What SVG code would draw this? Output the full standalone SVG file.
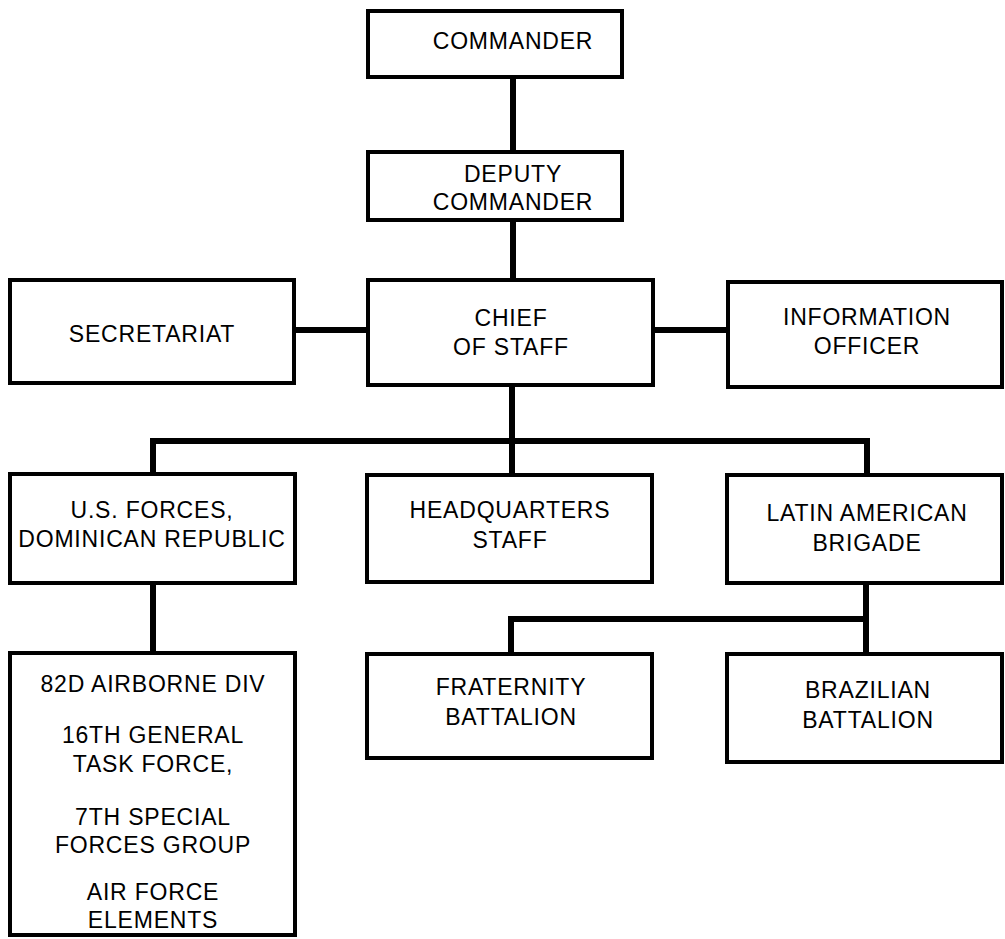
<svg xmlns="http://www.w3.org/2000/svg" width="1005" height="939" viewBox="0 0 1005 939">
<style>
.box{fill:#fff;stroke:#000;stroke-width:4}
.conn{fill:none;stroke:#000;stroke-width:6;stroke-linejoin:miter}
text{font-family:"Liberation Sans",Arial,sans-serif;font-size:23px;letter-spacing:0.8px;text-anchor:middle;fill:#000}
</style>
<rect width="1005" height="939" fill="#fff"/>
<g id="connectors">
<path class="conn" d="M513,77 V152"/>
<path class="conn" d="M513,220 V280"/>
<path class="conn" d="M294,330 H368"/>
<path class="conn" d="M653,330 H728"/>
<path class="conn" d="M512,385 V475"/>
<path class="conn" d="M153,474 V441 H867 V475"/>
<path class="conn" d="M153,583 V653"/>
<path class="conn" d="M866,583 V654"/>
<path class="conn" d="M511,654 V619 H866"/>
</g>
<g id="commander"><rect class="box" x="368" y="11" width="254" height="66"/><text x="513" y="49">COMMANDER</text></g>
<g id="deputy"><rect class="box" x="368" y="152" width="254" height="68"/><text x="513" y="182">DEPUTY</text><text x="513" y="210">COMMANDER</text></g>
<g id="chief"><rect class="box" x="368" y="280" width="285" height="105"/><text x="511" y="326">CHIEF</text><text x="511" y="355">OF STAFF</text></g>
<g id="secretariat"><rect class="box" x="10" y="280" width="284" height="103"/><text x="152" y="342">SECRETARIAT</text></g>
<g id="info"><rect class="box" x="728" y="282" width="274" height="105"/><text x="867" y="325">INFORMATION</text><text x="867" y="354">OFFICER</text></g>
<g id="usforces"><rect class="box" x="10" y="474" width="285" height="109"/><text x="152" y="518">U.S. FORCES,</text><text x="152" y="547">DOMINICAN REPUBLIC</text></g>
<g id="hq"><rect class="box" x="367" y="475" width="285" height="107"/><text x="510" y="518">HEADQUARTERS</text><text x="510" y="548">STAFF</text></g>
<g id="latin"><rect class="box" x="727" y="475" width="275" height="108"/><text x="867" y="521">LATIN AMERICAN</text><text x="867" y="551">BRIGADE</text></g>
<g id="units"><rect class="box" x="10" y="653" width="285" height="282"/>
<text x="153" y="692">82D AIRBORNE DIV</text>
<text x="153" y="743">16TH GENERAL</text>
<text x="153" y="772">TASK FORCE,</text>
<text x="153" y="825">7TH SPECIAL</text>
<text x="153" y="853">FORCES GROUP</text>
<text x="153" y="900">AIR FORCE</text>
<text x="153" y="928">ELEMENTS</text></g>
<g id="fraternity"><rect class="box" x="367" y="654" width="285" height="104"/><text x="511" y="695">FRATERNITY</text><text x="511" y="725">BATTALION</text></g>
<g id="brazilian"><rect class="box" x="727" y="654" width="275" height="108"/><text x="868" y="698">BRAZILIAN</text><text x="868" y="728">BATTALION</text></g>
</svg>
